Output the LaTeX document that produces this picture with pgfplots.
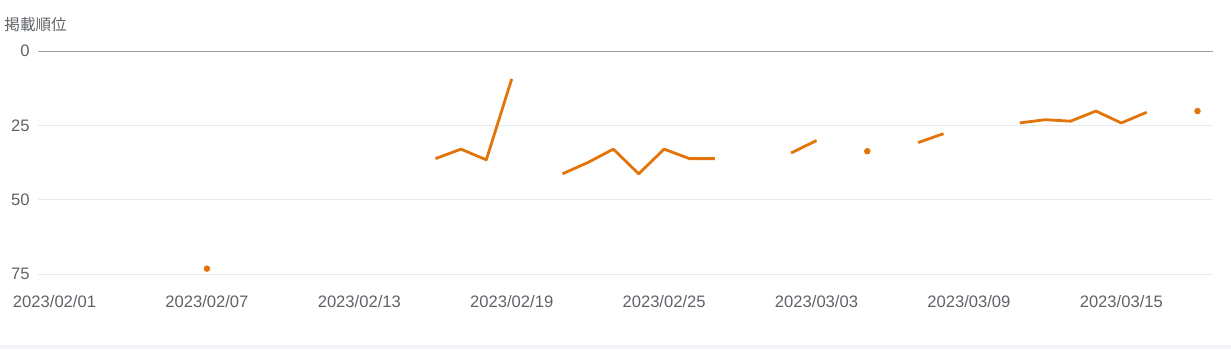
\documentclass[border=0pt]{standalone}
\usepackage{fontspec}
\setmainfont{Liberation Sans}
\newfontfamily\cjk{Noto Sans CJK JP}
\usepackage{pgfplots}
\pgfplotsset{compat=1.18}
\definecolor{rankc}{RGB}{227,116,10}
\definecolor{txtc}{RGB}{95,99,104}
\definecolor{gridc}{RGB}{232,234,237}
\definecolor{zeroc}{RGB}{154,160,166}
\definecolor{cardc}{RGB}{241,243,249}
\begin{document}
\begin{tikzpicture}[x=0.5pt,y=-0.5pt]
\useasboundingbox (0,0) rectangle (1231,349);
\fill[cardc] (0,345) rectangle (1231,349);
\node[anchor=west,inner sep=0pt,text=txtc,font=\cjk\fontsize{7.8pt}{9pt}\selectfont] at (4,25) {掲載順位};
\begin{axis}[
  at={(38pt*0.5,-51pt*0.5)}, anchor=north west,
  scale only axis, width=587.5pt, height=111.5pt,
  xmin=-0.65, xmax=45.61, ymin=0, ymax=75, y dir=reverse,
  axis line style={draw=none},
  major tick length=0pt,
  xtick={0,6,12,18,24,30,36,42},
  xticklabels={2023/02/01,2023/02/07,2023/02/13,2023/02/19,2023/02/25,2023/03/03,2023/03/09,2023/03/15},
  ytick={25,50,75},
  extra y ticks={0},
  extra y tick style={major grid style={color=zeroc,line width=0.5pt}},
  ymajorgrids, major grid style={color=gridc,line width=0.5pt},
  tick label style={text=txtc,font=\fontsize{8.3pt}{10pt}\selectfont},
  /pgf/number format/assume math mode=true,
  xticklabel style={anchor=north,inner sep=0pt,yshift=-10.3pt},
  yticklabel style={anchor=east,inner sep=0pt,xshift=-4pt},
  clip=false,
]
\addplot[rankc,line width=1.4pt,line join=round] coordinates {(15,36.2)(16,33.0)(17,36.6)(18,9.4)};
\addplot[rankc,line width=1.4pt,line join=round] coordinates {(20,41.3)(21,37.5)(22,33.0)(23,41.3)(24,33.0)(25,36.2)(26,36.2)};
\addplot[rankc,line width=1.4pt,line join=round] coordinates {(29,34.3)(30,30.1)};
\addplot[rankc,line width=1.4pt,line join=round] coordinates {(34,30.8)(35,27.8)};
\addplot[rankc,line width=1.4pt,line join=round] coordinates {(38,24.2)(39,23.1)(40,23.6)(41,20.2)(42,24.2)(43,20.6)};
\addplot[only marks,mark=*,mark size=1.4pt,rankc] coordinates {(6,73.2)(32,33.7)(45,20.2)};
\end{axis}
\end{tikzpicture}
\end{document}
